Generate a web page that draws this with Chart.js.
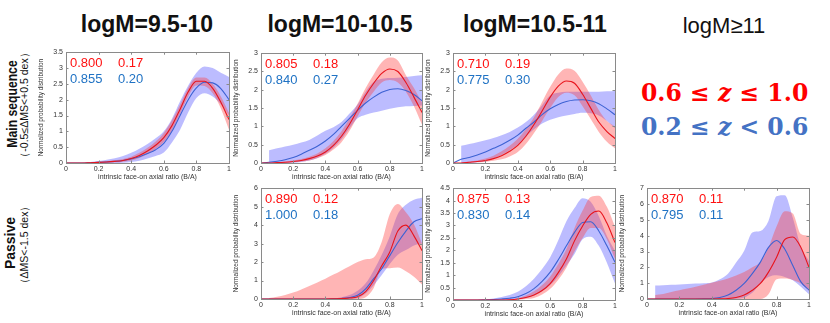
<!DOCTYPE html>
<html>
<head>
<meta charset="utf-8">
<script src="https://cdn.jsdelivr.net/npm/chart.js@4.4.1/dist/chart.umd.min.js"></script>
<style>
  body { margin: 0; background: #fff; }
  #wrap { position: relative; width: 830px; height: 323px; overflow: hidden; font-family: "Liberation Sans", Arial, sans-serif; }
  .cv { position: absolute; }
  .title { position: absolute; font-size: 23px; line-height: 23px; font-weight: bold; color: #111; white-space: nowrap; transform: translateX(-50%); }
  .rot { position: absolute; white-space: nowrap; color: #111; transform: translate(-50%, -50%) rotate(-90deg); }
  .leg { position: absolute; font-family: "DejaVu Serif", serif; font-weight: bold; font-size: 23.5px; line-height: 28px; white-space: nowrap; transform: translateY(-50%); }
</style>
</head>
<body>
<div id="wrap">
  <div class="title" style="left:147px;top:13px">logM=9.5-10</div>
  <div class="title" style="left:340px;top:13px">logM=10-10.5</div>
  <div class="title" style="left:535px;top:13px">logM=10.5-11</div>
  <div class="title" style="left:724px;top:14px;font-weight:normal;font-size:22px">logM≥11</div>

  <div class="rot" style="left:12px;top:104px;font-size:14px;font-weight:bold;transform:translate(-50%, -50%) rotate(-90deg) scaleX(0.87)">Main sequence</div>
  <div class="rot" style="left:25px;top:105px;font-size:10.5px">（-0.5≤ΔMS&lt;+0.5 dex）</div>
  <div class="rot" style="left:10px;top:243px;font-size:14px;font-weight:bold">Passive</div>
  <div class="rot" style="left:25px;top:245px;font-size:10.5px">（ΔMS&lt;-1.5 dex）</div>

  <div class="leg" style="left:641px;top:93px;color:#ff0000">0.6 ≤ <i>z</i> ≤ 1.0</div>
  <div class="leg" style="left:641px;top:127px;color:#4472c4">0.2 ≤ <i>z</i> &lt; 0.6</div>
</div>
<script>
// =========================
// Data (x grid shared by all panels)
// =========================
const xs = [0, 0.05, 0.1, 0.15, 0.2, 0.25, 0.3, 0.35, 0.4, 0.45, 0.5, 0.55, 0.6, 0.65, 0.7, 0.75, 0.8, 0.85, 0.9, 0.95, 1];
const xTicks = [0, 0.2, 0.4, 0.6, 0.8, 1];

// logM=9.5-10, main sequence
const p1RedMean = [0, 0, 0, 0.01, 0.02, 0.03, 0.05, 0.08, 0.14, 0.24, 0.38, 0.56, 0.8, 1.18, 1.7, 2.25, 2.58, 2.58, 2.36, 1.92, 1.37];
const p1RedHi   = [null, null, 0.01, 0.02, 0.04, 0.06, 0.09, 0.13, 0.2, 0.32, 0.48, 0.68, 0.95, 1.35, 1.85, 2.38, 2.7, 2.7, 2.5, 2.1, 1.58];
const p1RedLo   = [null, null, 0, 0, 0.01, 0.01, 0.02, 0.04, 0.08, 0.16, 0.28, 0.44, 0.66, 1.02, 1.55, 2.1, 2.45, 2.43, 2.2, 1.72, 1.05];
const p1BlueMean = [0, 0, 0, 0.01, 0.02, 0.03, 0.05, 0.08, 0.13, 0.2, 0.3, 0.42, 0.62, 1.0, 1.5, 2.0, 2.37, 2.55, 2.53, 2.35, 2.0];
const p1BlueHi   = [null, null, null, 0.03, 0.06, 0.1, 0.15, 0.22, 0.32, 0.45, 0.6, 0.78, 1.0, 1.4, 1.95, 2.45, 2.85, 3.05, 3.0, 2.85, 2.72];
const p1BlueLo   = [null, null, null, 0, 0, 0, 0, 0.01, 0.03, 0.07, 0.14, 0.22, 0.33, 0.65, 1.05, 1.6, 2.05, 2.2, 2.1, 1.85, 1.5];

// logM=10-10.5, main sequence
const p2RedMean = [0, 0, 0.01, 0.02, 0.04, 0.07, 0.12, 0.19, 0.3, 0.48, 0.73, 1.06, 1.45, 1.85, 2.18, 2.45, 2.57, 2.5, 2.2, 1.8, 1.38];
const p2RedHi   = [null, null, 0.02, 0.04, 0.07, 0.11, 0.17, 0.26, 0.4, 0.6, 0.87, 1.22, 1.62, 2.05, 2.42, 2.75, 2.88, 2.8, 2.4, 2.05, 1.65];
const p2RedLo   = [null, null, 0, 0.01, 0.02, 0.04, 0.07, 0.13, 0.22, 0.37, 0.57, 0.88, 1.27, 1.65, 1.95, 2.2, 2.27, 2.2, 1.95, 1.55, 1.05];
const p2BlueMean = [0, 0.02, 0.05, 0.09, 0.15, 0.24, 0.35, 0.46, 0.6, 0.78, 1.0, 1.22, 1.44, 1.64, 1.8, 1.93, 2.01, 2.03, 1.98, 1.87, 1.7];
const p2BlueHi   = [null, 0.35, 0.4, 0.45, 0.5, 0.56, 0.63, 0.75, 0.88, 0.98, 1.12, 1.35, 1.6, 1.95, 2.22, 2.3, 2.32, 2.33, 2.35, 2.38, 2.4];
const p2BlueLo   = [null, 0, 0, 0, 0.01, 0.03, 0.07, 0.14, 0.25, 0.42, 0.65, 0.95, 1.22, 1.32, 1.38, 1.43, 1.48, 1.52, 1.55, 1.56, 1.57];

// logM=10.5-11, main sequence
const p3RedMean = [0, 0, 0.02, 0.04, 0.07, 0.12, 0.2, 0.32, 0.48, 0.73, 1.05, 1.42, 1.8, 2.1, 2.24, 2.18, 1.88, 1.5, 1.12, 0.86, 0.67];
const p3RedHi   = [null, 0.01, 0.04, 0.07, 0.12, 0.2, 0.32, 0.47, 0.66, 0.92, 1.25, 1.67, 2.08, 2.42, 2.58, 2.52, 2.22, 1.85, 1.45, 1.15, 1.0];
const p3RedLo   = [null, 0, 0.01, 0.02, 0.03, 0.06, 0.1, 0.18, 0.3, 0.52, 0.82, 1.15, 1.5, 1.8, 1.92, 1.85, 1.55, 1.2, 0.85, 0.58, 0.4];
const p3BlueMean = [0, 0.1, 0.15, 0.22, 0.3, 0.4, 0.5, 0.62, 0.76, 0.95, 1.12, 1.32, 1.48, 1.6, 1.68, 1.72, 1.73, 1.7, 1.62, 1.48, 1.32];
const p3BlueHi   = [null, 0.47, 0.52, 0.57, 0.62, 0.68, 0.76, 0.85, 0.97, 1.12, 1.32, 1.58, 1.85, 1.92, 1.95, 1.95, 1.95, 1.95, 1.95, 1.96, 1.97];
const p3BlueLo   = [null, 0, 0, 0.02, 0.05, 0.12, 0.22, 0.35, 0.5, 0.72, 0.92, 1.08, 1.18, 1.25, 1.3, 1.34, 1.37, 1.36, 1.3, 1.15, 0.95];

// logM=10-10.5, passive
const p5RedMean = [0, 0, 0, 0, 0, 0, 0, 0, 0, 0.01, 0.02, 0.05, 0.12, 0.4, 1.0, 1.8, 2.55, 3.68, 4.0, 3.42, 2.62];
const p5RedHi   = [null, 0.05, 0.12, 0.22, 0.35, 0.52, 0.7, 0.9, 1.1, 1.32, 1.55, 1.78, 2.0, 2.15, 2.25, 3.1, 4.6, 5.15, 4.7, 4.05, 3.0];
const p5RedLo   = [null, 0, 0, 0, 0, 0, 0, 0, 0, 0, 0, 0, 0, 0.1, 0.6, 1.62, 1.66, 1.7, 1.5, 1.2, 0.78];
const p5BlueMean = [0, 0, 0, 0, 0, 0, 0, 0, 0, 0.01, 0.03, 0.08, 0.2, 0.55, 1.1, 1.64, 2.35, 3.06, 3.68, 4.18, 4.35];
const p5BlueHi   = [null, null, null, null, null, null, null, null, 0, 0.04, 0.1, 0.22, 0.45, 0.85, 1.55, 2.4, 3.4, 4.6, 5.1, 5.38, 5.48];
const p5BlueLo   = [null, null, null, null, null, null, null, null, 0, 0, 0, 0.01, 0.05, 0.3, 0.75, 1.3, 1.9, 2.4, 2.65, 2.9, 3.0];

// logM=10.5-11, passive
const p6RedMean = [0, 0, 0, 0, 0, 0, 0, 0.01, 0.04, 0.1, 0.2, 0.38, 0.66, 1.1, 1.65, 2.38, 2.98, 3.45, 3.58, 3.1, 2.31];
const p6RedHi   = [null, null, null, null, null, null, 0.01, 0.03, 0.07, 0.18, 0.35, 0.6, 0.95, 1.45, 2.05, 2.9, 3.6, 4.15, 4.2, 3.75, 2.95];
const p6RedLo   = [null, null, null, null, null, null, 0, 0, 0.01, 0.04, 0.08, 0.22, 0.45, 0.82, 1.3, 1.95, 2.5, 2.9, 2.9, 2.45, 1.65];
const p6BlueMean = [0, 0, 0, 0, 0.01, 0.02, 0.04, 0.07, 0.13, 0.26, 0.46, 0.75, 1.12, 1.62, 2.18, 2.72, 3.12, 3.15, 2.78, 2.18, 1.52];
const p6BlueHi   = [null, null, null, null, 0.02, 0.06, 0.12, 0.2, 0.33, 0.55, 0.86, 1.25, 1.72, 2.4, 3.17, 3.7, 4.1, 3.95, 3.37, 2.58, 1.98];
const p6BlueLo   = [null, null, null, null, 0, 0, 0, 0, 0.02, 0.08, 0.18, 0.35, 0.6, 0.95, 1.39, 1.85, 2.45, 2.55, 2.18, 1.5, 0.66];

// logM>=11, passive
const p7RedMean = [0, 0, 0, 0, 0, 0, 0, 0, 0, 0.01, 0.03, 0.1, 0.25, 0.55, 0.98, 1.7, 2.64, 3.75, 3.92, 3.26, 2.0];
const p7RedHi   = [null, 0.25, 0.32, 0.45, 0.56, 0.66, 0.77, 0.9, 1.02, 1.15, 1.29, 1.48, 1.7, 2.0, 2.33, 3.26, 4.6, 5.55, 5.4, 4.1, 4.0];
const p7RedLo   = [null, 0, 0, 0, 0, 0, 0, 0, 0, 0, 0, 0, 0, 0, 0, 0.3, 1.25, 1.29, 1.2, 0.98, 0.56];
const p7BlueMean = [0, 0, 0, 0, 0, 0, 0, 0.01, 0.03, 0.1, 0.25, 0.55, 0.98, 1.6, 2.33, 3.26, 3.7, 3.16, 2.12, 1.08, 0.56];
const p7BlueHi   = [null, 0.85, 0.87, 0.9, 0.92, 0.95, 0.98, 1.0, 1.05, 1.25, 1.6, 2.3, 3.05, 4.2, 4.3, 4.93, 6.49, 6.55, 5.13, 3.3, 2.4];
const p7BlueLo   = [null, 0, 0, 0, 0, 0, 0, 0, 0, 0, 0, 0.02, 0.1, 0.4, 0.98, 1.39, 1.5, 1.39, 1.18, 0.77, 0.3];

// fitted peak / width labels written in each panel
const statLabels = {
    p1: [['0.800', '0.17'], ['0.855', '0.20']],
    p2: [['0.805', '0.18'], ['0.840', '0.27']],
    p3: [['0.710', '0.19'], ['0.775', '0.30']],
    p5: [['0.890', '0.12'], ['1.000', '0.18']],
    p6: [['0.875', '0.13'], ['0.830', '0.14']],
    p7: [['0.870', '0.11'], ['0.795', '0.11']]
};

// =========================
// Styles
// =========================
const RED = '#e8141c';
const BLUE = '#3d62d3';
const RED_BAND = 'rgba(255, 60, 60, 0.38)';
const BLUE_BAND = 'rgba(70, 70, 255, 0.36)';
const RED_TXT = '#ff1010';
const BLUE_TXT = '#1f72c4';
const Y_W = 29, X_H = 18, PAD_T = 6, PAD_R = 6;

function pts(arr) {
    return xs.map((x, i) => ({ x: x, y: arr[i] }));
}

// plain tick text: 0, 0.5, 1, 1.5 ...
const plainTick = (v) => String(Math.round(v * 100) / 100);

// box + inward ticks + stat text
const framePlugin = {
    id: 'frame',
    afterDatasetsDraw(chart, args, opts) {
        const { ctx, chartArea: a, scales } = chart;
        ctx.save();
        ctx.strokeStyle = '#8a8a8a';
        ctx.lineWidth = 1;
        ctx.strokeRect(Math.round(a.left) + 0.5, Math.round(a.top) + 0.5, Math.round(a.right - a.left), Math.round(a.bottom - a.top));
        ctx.beginPath();
        scales.y.ticks.forEach(t => {
            const py = Math.round(scales.y.getPixelForValue(t.value)) + 0.5;
            ctx.moveTo(a.left, py); ctx.lineTo(a.left + 2.5, py);
            ctx.moveTo(a.right, py); ctx.lineTo(a.right - 2.5, py);
        });
        scales.x.ticks.forEach(t => {
            const px = Math.round(scales.x.getPixelForValue(t.value)) + 0.5;
            ctx.moveTo(px, a.bottom); ctx.lineTo(px, a.bottom - 2.5);
            ctx.moveTo(px, a.top); ctx.lineTo(px, a.top + 2.5);
        });
        ctx.stroke();

        const s = opts.stats;
        if (s) {
            ctx.font = '13px "Liberation Sans", Arial, sans-serif';
            ctx.textBaseline = 'middle';
            ctx.fillStyle = RED_TXT;
            ctx.fillText(s[0][0], a.left + 4, a.top + 11);
            ctx.fillText(s[0][1], a.left + 52, a.top + 11);
            ctx.fillStyle = BLUE_TXT;
            ctx.fillText(s[1][0], a.left + 4, a.top + 27);
            ctx.fillText(s[1][1], a.left + 52, a.top + 27);
        }
        ctx.restore();
    }
};

// =========================
// Render one panel
// =========================
function renderPanel(key, box, yMax, yStep, d) {
    const wrap = document.getElementById('wrap');
    const holder = document.createElement('div');
    holder.className = 'cv';
    const w = box.r - box.l + Y_W + PAD_R;
    const h = box.b - box.t + PAD_T + X_H;
    holder.style.left = (box.l - Y_W) + 'px';
    holder.style.top = (box.t - PAD_T) + 'px';
    holder.style.width = w + 'px';
    holder.style.height = h + 'px';
    const canvas = document.createElement('canvas');
    holder.appendChild(canvas);
    wrap.appendChild(holder);

    const line = (arr, color) => ({
        data: pts(arr), borderColor: color, borderWidth: 1.1, pointRadius: 0,
        fill: false, cubicInterpolationMode: 'monotone'
    });
    const edge = (arr, fill, bg) => ({
        data: pts(arr), borderWidth: 0, borderColor: 'rgba(0,0,0,0)', pointRadius: 0,
        fill: fill, backgroundColor: bg, cubicInterpolationMode: 'monotone'
    });

    new Chart(canvas, {
        type: 'line',
        data: {
            datasets: [
                line(d.redMean, RED),
                line(d.blueMean, BLUE),
                edge(d.redHi, '+1', RED_BAND),
                edge(d.redLo, false, RED_BAND),
                edge(d.blueHi, '+1', BLUE_BAND),
                edge(d.blueLo, false, BLUE_BAND)
            ]
        },
        options: {
            responsive: true,
            maintainAspectRatio: false,
            animation: false,
            layout: { padding: { top: PAD_T, right: PAD_R, left: 0, bottom: 0 } },
            plugins: {
                legend: { display: false },
                tooltip: { enabled: false },
                frame: { stats: statLabels[key] }
            },
            scales: {
                x: {
                    type: 'linear', min: 0, max: 1,
                    afterBuildTicks: (s) => { s.ticks = xTicks.map(v => ({ value: v })); },
                    afterFit: (s) => { s.height = X_H; },
                    grid: { display: false, drawTicks: false },
                    border: { display: false },
                    ticks: { font: { size: 7 }, color: '#333', padding: 2, maxRotation: 0, callback: plainTick },
                    title: { display: true, text: 'intrinsic face-on axial ratio (B/A)', font: { size: 7 }, color: '#333', padding: 0 }
                },
                y: {
                    min: 0, max: yMax,
                    afterFit: (s) => { s.width = Y_W; },
                    grid: { display: false, drawTicks: false },
                    border: { display: false },
                    ticks: { stepSize: yStep, font: { size: 7 }, color: '#333', padding: 3, callback: plainTick },
                    title: { display: true, text: 'Normalized probability distribution', font: { size: 6.5 }, color: '#333', padding: 0 }
                }
            }
        },
        plugins: [framePlugin]
    });
}

renderPanel('p1', { l: 66, t: 51, r: 229, b: 163 }, 3.5, 0.5,
    { redMean: p1RedMean, redHi: p1RedHi, redLo: p1RedLo, blueMean: p1BlueMean, blueHi: p1BlueHi, blueLo: p1BlueLo });
renderPanel('p2', { l: 261, t: 52, r: 422, b: 163 }, 3, 0.5,
    { redMean: p2RedMean, redHi: p2RedHi, redLo: p2RedLo, blueMean: p2BlueMean, blueHi: p2BlueHi, blueLo: p2BlueLo });
renderPanel('p3', { l: 453, t: 52, r: 615, b: 163 }, 3, 0.5,
    { redMean: p3RedMean, redHi: p3RedHi, redLo: p3RedLo, blueMean: p3BlueMean, blueHi: p3BlueHi, blueLo: p3BlueLo });
renderPanel('p5', { l: 261, t: 187, r: 422, b: 299 }, 6, 1,
    { redMean: p5RedMean, redHi: p5RedHi, redLo: p5RedLo, blueMean: p5BlueMean, blueHi: p5BlueHi, blueLo: p5BlueLo });
renderPanel('p6', { l: 453, t: 187, r: 615, b: 300 }, 4.5, 0.5,
    { redMean: p6RedMean, redHi: p6RedHi, redLo: p6RedLo, blueMean: p6BlueMean, blueHi: p6BlueHi, blueLo: p6BlueLo });
renderPanel('p7', { l: 647, t: 187, r: 809, b: 299 }, 7, 1,
    { redMean: p7RedMean, redHi: p7RedHi, redLo: p7RedLo, blueMean: p7BlueMean, blueHi: p7BlueHi, blueLo: p7BlueLo });
</script>
</body>
</html>
